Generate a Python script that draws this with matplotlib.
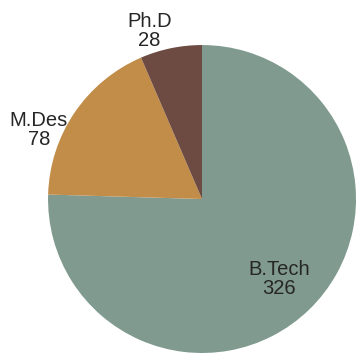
import matplotlib.pyplot as plt

# data
programs = ["B.Tech", "M.Des", "Ph.D"]
students = [326, 78, 28]

colors = ["#809a8f", "#c28d48", "#6d4b42"]
# label centres in data units (pie radius = 1, centre at origin)
label_pos = [(0.50, -0.52), (-1.06, 0.45), (-0.34, 1.09)]

plt.rcParams["font.family"] = ["Liberation Sans", "DejaVu Sans"]

fig = plt.figure(figsize=(3.58, 3.58), dpi=100)
ax = fig.add_axes([0, 0, 1, 1])

wedges, _ = ax.pie(
    students,
    colors=colors,
    startangle=90,
    counterclock=False,
    radius=1.0,
    wedgeprops=dict(linewidth=0, edgecolor="none"),
)

for name, val, (x, y) in zip(programs, students, label_pos):
    ax.text(x, y, f"{name}\n{val}", ha="center", va="center",
            fontsize=14.5, color="#262626", linespacing=1.0)

ax.set_aspect("equal")
ax.set_xlim(-1.312, 1.013)
ax.set_ylim(-1.032, 1.292)
ax.axis("off")

fig.savefig("out.png", dpi=100, facecolor="white")
